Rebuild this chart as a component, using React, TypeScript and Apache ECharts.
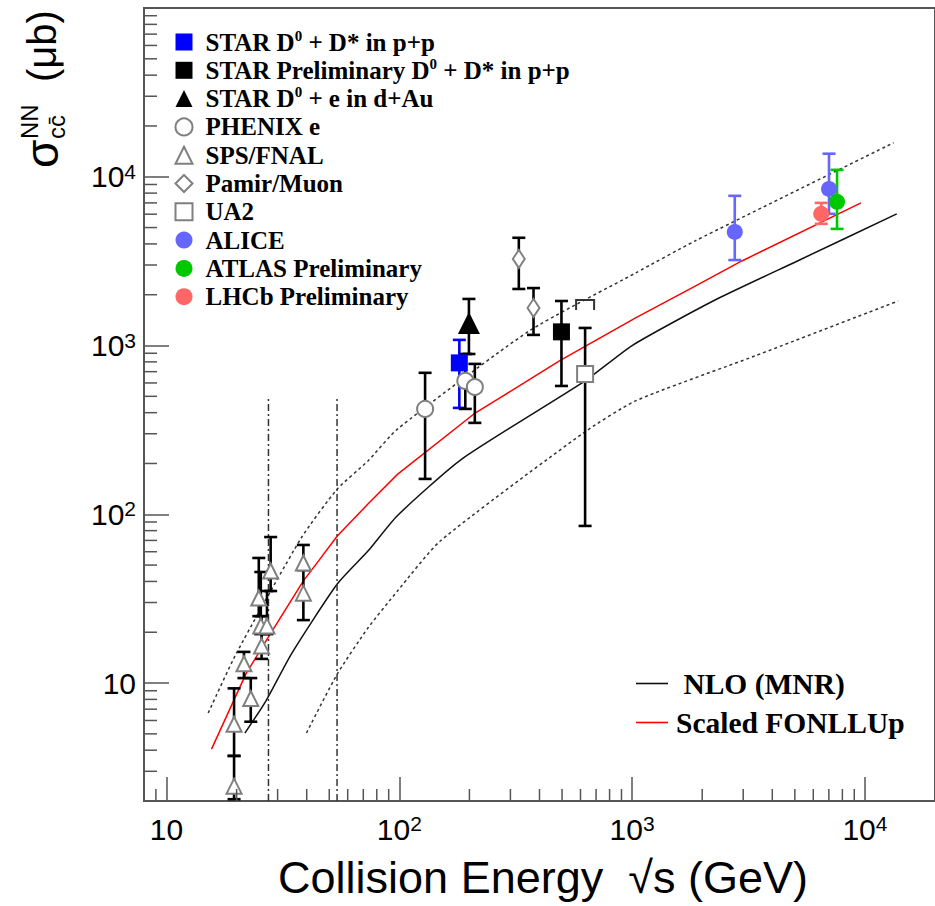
import React, { useEffect, useRef } from 'react';
import * as echarts from 'echarts';

// ---- axis ranges ----
const X_MIN = 8;
const X_MAX = 20000;
const Y_MIN = 2;
const Y_MAX = 100000;

// ---- data: [sqrt(s) GeV, sigma (ub), err low, err high] ----
const STAR_PP = [[181, 789, 427, 1080]];
const STAR_PRELIM = [[497, 1205, 576, 1836]];
const STAR_DAU = [[199, 1361, 891, 1888]];
const PHENIX = [
  [129, 421, 162, 689],
  [192, 617, 421, 891],
  [211, 568, 348, 778],
];
const SPS = [
  [19.5, 5.7, 3.7, 9.3],
  [19.5, 2.45, 2.05, 3.7],
  [21.5, 13.0, 10.7, 15.3],
  [23.0, 8.1, 5.9, 10.7],
  [24.9, 31.9, 24.9, 55.1],
  [25.4, 21.8, 19.5, 45.5],
  [25.6, 16.6, 13.9, 24.9],
  [27.0, 21.8, 19.5, 35.1],
  [28.0, 46.1, 35.1, 73.3],
  [38.7, 51.4, 46.8, 65.8],
  [38.7, 34.1, 23.6, 46.8],
];
const PAMIR = [
  [326, 3260, 2163, 4350],
  [377, 1670, 1156, 2190],
];
const UA2 = [[628, 679, 85.3, 1271]];
const UA2_SYS = [[628, 1862]];
const ALICE = [
  [2760, 4710, 3210, 7710],
  [7010, 8470, 6030, 13700],
];
const ATLAS = [[7590, 7100, 4910, 10990]];
const LHCB = [[6490, 6030, 5260, 7000]];

// ---- theory curves ----
const NLO_X = [21.7, 26.7, 34.4, 54.1, 73.3, 98, 186, 628, 1000, 2270, 5130, 13700];
const NLO_Y = [5.05, 7.82, 14.9, 38.6, 60.5, 98, 213, 617, 1000, 1860, 3170, 6030];
const FONLL_X = [15.6, 21.9, 26.7, 38.7, 44.9, 54.1, 73.3, 98.4, 209, 487, 1035, 1866, 2960, 9620];
const FONLL_Y = [4.06, 11.3, 17.7, 40.3, 52.8, 74.3, 115, 173, 393, 811, 1458, 2250, 3170, 7000];
const UPPER_X = [15.1, 19.9, 37.9, 54.1, 73.3, 98.4, 362, 1035, 1866, 13280];
const UPPER_Y = [6.64, 14.9, 72.4, 141, 207, 321, 1222, 2690, 4170, 15900];
const LOWER_X = [39.9, 54.1, 73.3, 98, 150, 617, 1035, 3365, 13900];
const LOWER_Y = [5.06, 11.3, 21.2, 35, 69.5, 303, 470, 867, 1837];

// vertical dash-dot markers
const VLINE_X = [27.4, 54];
const VLINE_TOP = 500;

// minor tick multipliers
const MINOR_MULT = [2, 3, 4, 5, 6, 7, 8, 9];
const DECADES = [1, 10, 100, 1000, 10000];

const LEGEND_LABELS: Record<string, string> = {
  'STAR D0 + D* in p+p': 'STAR D{sup|0} + D* in p+p',
  'STAR Preliminary D0 + D* in p+p': 'STAR Preliminary D{sup|0} + D* in p+p',
  'STAR D0 + e in d+Au': 'STAR D{sup|0} + e in d+Au',
};

const SETS: any[] = [
  { name: 'STAR D0 + D* in p+p', data: STAR_PP, symbol: 'rect', size: 17, color: '#0000ff', err: '#0000ff' },
  { name: 'STAR Preliminary D0 + D* in p+p', data: STAR_PRELIM, symbol: 'rect', size: 17, color: '#000000', err: '#000000' },
  { name: 'STAR D0 + e in d+Au', data: STAR_DAU, symbol: 'triangle', size: 22, color: '#000000', err: '#000000' },
  { name: 'PHENIX e', data: PHENIX, symbol: 'emptyCircle', size: 16, color: '#808080', err: '#000000' },
  { name: 'SPS/FNAL', data: SPS, symbol: 'emptyTriangle', size: 15, color: '#808080', err: '#000000' },
  { name: 'Pamir/Muon', data: PAMIR, symbol: 'emptyDiamond', size: [12, 18], color: '#808080', err: '#000000' },
  { name: 'UA2', data: UA2, symbol: 'emptyRect', size: 16, color: '#808080', err: '#000000' },
  { name: 'ALICE', data: ALICE, symbol: 'circle', size: 16, color: '#6666ff', err: '#6666ff' },
  { name: 'ATLAS Preliminary', data: ATLAS, symbol: 'circle', size: 16, color: '#00c800', err: '#00c800' },
  { name: 'LHCb Preliminary', data: LHCB, symbol: 'circle', size: 16, color: '#ff6666', err: '#ff6666' },
];

const zip = (xs: number[], ys: number[]) => xs.map((x, i) => [x, ys[i]]);

const AXIS_COLOR = '#555';

const fmtPow = (v: number) => {
  const l = Math.log10(v);
  const e = Math.round(l);
  if (Math.abs(l - e) > 1e-6) return '';
  if (e === 1) return '10';
  return '10{sup|' + e + '}';
};

export default function App() {
  const ref = useRef<HTMLDivElement>(null);
  useEffect(() => {
    const chart = echarts.init(ref.current!, null, { renderer: 'svg' });

    const errSeries = SETS.map((s) => ({
      type: 'custom',
      name: s.name + ' (errors)',
      coordinateSystem: 'cartesian2d',
      silent: true,
      z: 3,
      data: s.data,
      encode: { x: 0, y: [1, 2, 3] },
      renderItem: (_p: any, api: any) => {
        const x = api.value(0);
        const lo = api.coord([x, api.value(2)]);
        const hi = api.coord([x, api.value(3)]);
        const w = 6.5;
        const style = { stroke: s.err, lineWidth: 2.6 };
        return {
          type: 'group',
          children: [
            { type: 'line', shape: { x1: lo[0], y1: lo[1], x2: hi[0], y2: hi[1] }, style },
            { type: 'line', shape: { x1: lo[0] - w, y1: lo[1], x2: lo[0] + w, y2: lo[1] }, style },
            { type: 'line', shape: { x1: hi[0] - w, y1: hi[1], x2: hi[0] + w, y2: hi[1] }, style },
          ],
        };
      },
    }));

    const pointSeries = SETS.map((s) => ({
      type: 'scatter',
      name: s.name,
      data: s.data.map((d: number[]) => [d[0], d[1]]),
      symbol: s.symbol,
      symbolSize: s.size,
      itemStyle: { color: s.color, opacity: 1 },
      z: 4,
    }));

    const minorX: number[][] = [];
    DECADES.forEach((d) => MINOR_MULT.forEach((m) => {
      const v = d * m;
      if (v > X_MIN && v < X_MAX) minorX.push([v, Y_MIN]);
    }));
    const minorY: number[][] = [];
    DECADES.forEach((d) => MINOR_MULT.forEach((m) => {
      const v = d * m;
      if (v > Y_MIN && v < Y_MAX) minorY.push([X_MIN, v]);
    }));

    const tickStyle = { stroke: AXIS_COLOR, lineWidth: 1.5 };

    const option: any = {
      animation: false,
      backgroundColor: '#ffffff',
      grid: {
        left: 144,
        top: 8,
        width: 797.5,
        height: 793,
        show: true,
        borderColor: AXIS_COLOR,
        borderWidth: 2,
        backgroundColor: 'transparent',
      },
      xAxis: {
        type: 'log',
        logBase: 10,
        min: X_MIN,
        max: X_MAX,
        axisLine: { lineStyle: { color: AXIS_COLOR, width: 2 } },
        axisTick: { inside: true, length: 24, lineStyle: { color: AXIS_COLOR, width: 1.5 } },
        splitLine: { show: false },
        axisLabel: {
          formatter: fmtPow,
          showMinLabel: false,
          showMaxLabel: false,
          margin: 12,
          color: '#000',
          fontFamily: 'Liberation Sans',
          fontSize: 30,
          lineHeight: 32,
          rich: {
            sup: { fontSize: 21, fontFamily: 'Liberation Sans', color: '#000', verticalAlign: 'top', lineHeight: 20 },
          },
        },
      },
      yAxis: {
        type: 'log',
        logBase: 10,
        min: Y_MIN,
        max: Y_MAX,
        axisLine: { lineStyle: { color: AXIS_COLOR, width: 2 } },
        axisTick: { inside: true, length: 25, lineStyle: { color: AXIS_COLOR, width: 1.5 } },
        splitLine: { show: false },
        axisLabel: {
          formatter: fmtPow,
          showMinLabel: false,
          showMaxLabel: false,
          margin: 8,
          color: '#000',
          fontFamily: 'Liberation Sans',
          fontSize: 30,
          lineHeight: 32,
          rich: {
            sup: { fontSize: 21, fontFamily: 'Liberation Sans', color: '#000', verticalAlign: 'top', lineHeight: 20 },
          },
        },
      },
      legend: [
        {
          orient: 'vertical',
          left: 174.5,
          top: 28,
          padding: 0,
          itemWidth: 17,
          itemHeight: 17,
          itemGap: 0.3,
          selectedMode: false,
          data: SETS.map((s) => s.name),
          formatter: (n: string) => LEGEND_LABELS[n] || n,
          textStyle: {
            fontFamily: 'Liberation Serif',
            fontWeight: 'bold',
            fontSize: 25,
            lineHeight: 28,
            color: '#000',
            padding: [0, 0, 0, 8],
            rich: {
              sup: { fontFamily: 'Liberation Serif', fontWeight: 'bold', fontSize: 15, lineHeight: 18, verticalAlign: 'top', color: '#000' },
            },
          },
        },
        {
          orient: 'vertical',
          left: 636,
          top: 664,
          padding: 0,
          itemWidth: 32,
          itemHeight: 1.6,
          itemGap: 0,
          selectedMode: false,
          data: [
            { name: 'NLO (MNR)', icon: 'rect' },
            { name: 'Scaled FONLLUp', icon: 'rect' },
          ],
          formatter: (n: string) => (n === 'NLO (MNR)' ? ' ' + n : n),
          textStyle: {
            fontFamily: 'Liberation Serif',
            fontWeight: 'bold',
            fontSize: 29.5,
            lineHeight: 39,
            color: '#000',
            padding: [0, 0, 0, 3],
          },
        },
      ],
      graphic: [
        {
          type: 'group',
          x: 42,
          y: 168,
          rotation: Math.PI / 2,
          children: [
            { type: 'text', x: 0, y: 0, style: { text: 'σ', fontSize: 46, fontFamily: 'Liberation Sans', fill: '#000', textAlign: 'left', verticalAlign: 'middle' } },
            { type: 'text', x: 29, y: -13, style: { text: 'NN', fontSize: 24, fontFamily: 'Liberation Sans', fill: '#000', textAlign: 'left', verticalAlign: 'middle' } },
            { type: 'text', x: 29, y: 14, style: { text: 'cc\u0304', fontSize: 24, fontFamily: 'Liberation Sans', fill: '#000', textAlign: 'left', verticalAlign: 'middle' } },
            { type: 'text', x: 86, y: 0, style: { text: '(μb)', fontSize: 40, fontFamily: 'Liberation Sans', fill: '#000', textAlign: 'left', verticalAlign: 'middle' } },
          ],
        },
        {
          type: 'text',
          x: 543,
          y: 877,
          style: { text: 'Collision Energy  √s (GeV)', fontSize: 45, fontFamily: 'Liberation Sans', fill: '#000', textAlign: 'center', verticalAlign: 'middle' },
        },
      ],
      series: [
        {
          type: 'line', name: 'NLO upper', data: zip(UPPER_X, UPPER_Y), symbol: 'none', silent: true, z: 2, smooth: 0.2,
          lineStyle: { color: '#333', width: 1.5, type: [3, 3] },
        },
        {
          type: 'line', name: 'NLO lower', data: zip(LOWER_X, LOWER_Y), symbol: 'none', silent: true, z: 2, smooth: 0.2,
          lineStyle: { color: '#333', width: 1.5, type: [3, 3] },
        },
        {
          type: 'line', name: 'NLO (MNR)', data: zip(NLO_X, NLO_Y), symbol: 'none', silent: true, z: 2, smooth: 0.2,
          itemStyle: { color: '#111' },
          lineStyle: { color: '#111', width: 1.5 },
        },
        {
          type: 'line', name: 'Scaled FONLLUp', data: zip(FONLL_X, FONLL_Y), symbol: 'none', silent: true, z: 2,
          itemStyle: { color: '#ff0000' },
          lineStyle: { color: '#ff0000', width: 1.5 },
        },
        ...VLINE_X.map((x, i) => ({
          type: 'line', name: 'marker ' + i, data: [[x, Y_MIN], [x, VLINE_TOP]], symbol: 'none', silent: true, z: 2,
          lineStyle: { color: '#333', width: 1.5, type: [7, 3, 2, 3] },
        })),
        {
          type: 'custom', name: 'UA2 sys', coordinateSystem: 'cartesian2d', silent: true, z: 3,
          data: UA2_SYS,
          renderItem: (_p: any, api: any) => {
            const c = api.coord([api.value(0), api.value(1)]);
            return {
              type: 'polyline',
              shape: { points: [[c[0] - 9, c[1] + 10], [c[0] - 9, c[1]], [c[0] + 9, c[1]], [c[0] + 9, c[1] + 10]] },
              style: { stroke: '#333', lineWidth: 2, fill: 'none' },
            };
          },
        },
        ...errSeries,
        ...pointSeries,
        {
          type: 'custom', name: 'x minor ticks', coordinateSystem: 'cartesian2d', silent: true, z: 5,
          data: minorX,
          renderItem: (_p: any, api: any) => {
            const c = api.coord([api.value(0), Y_MIN]);
            return { type: 'line', shape: { x1: c[0], y1: c[1], x2: c[0], y2: c[1] - 12 }, style: tickStyle };
          },
        },
        {
          type: 'custom', name: 'y minor ticks', coordinateSystem: 'cartesian2d', silent: true, z: 5,
          data: minorY,
          renderItem: (_p: any, api: any) => {
            const c = api.coord([X_MIN, api.value(1)]);
            return { type: 'line', shape: { x1: c[0], y1: c[1], x2: c[0] + 13, y2: c[1] }, style: tickStyle };
          },
        },
      ],
    };

    chart.setOption(option);
    return () => chart.dispose();
  }, []);

  return (
    <div
      ref={ref}
      style={{ position: 'fixed', left: 0, top: 0, width: 935, height: 906, background: '#fff' }}
    />
  );
}
